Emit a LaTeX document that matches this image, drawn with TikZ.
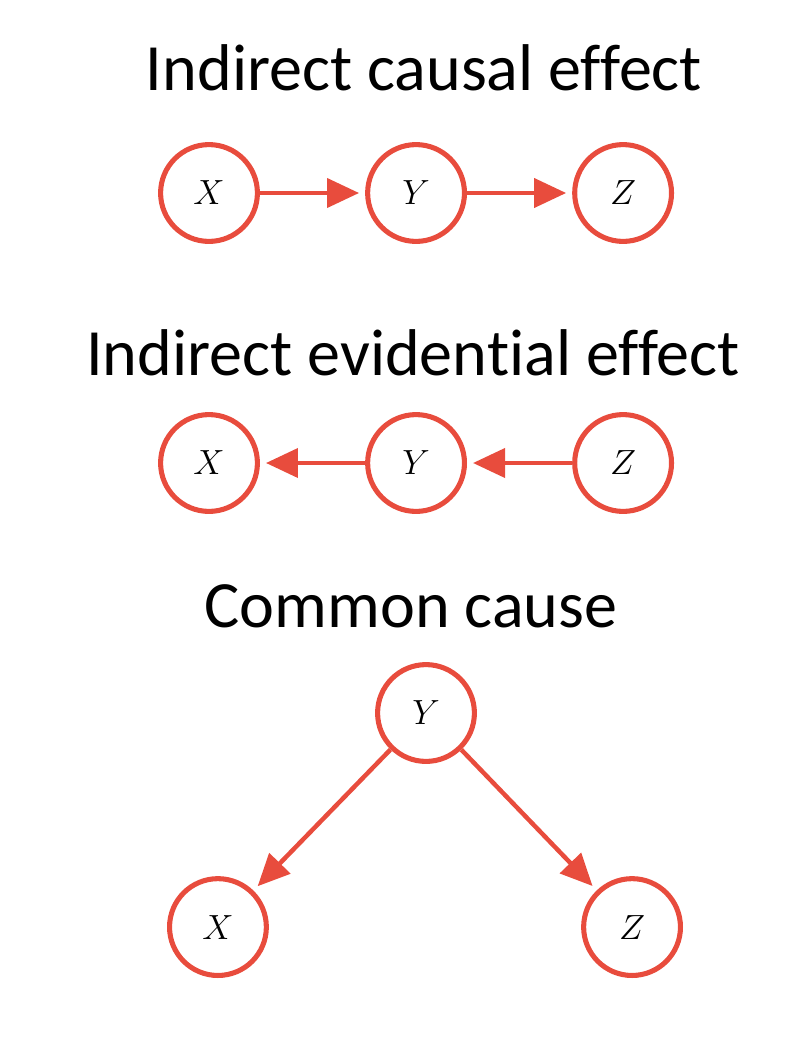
\documentclass[tikz,border=0pt]{standalone}
\usepackage{fontspec}
\setmainfont{Carlito}[RawFeature={-liga;-dlig;-calt}]
\usetikzlibrary{arrows.meta,positioning}
\definecolor{causered}{RGB}{232,76,61}

\begin{document}
\begin{tikzpicture}[x=0.025cm,y=-0.025cm,>={Triangle[length=0.8cm,width=0.72cm]},
        node distance=5.175cm,on grid,
        main node/.style={circle,draw=causered,line width=3.6pt,minimum size=2.42cm,inner sep=0pt,font=\fontsize{26}{30}\selectfont},
        title node/.style={anchor=base,font=\fontsize{47}{54}\selectfont},
        arrow line/.style={causered,line width=3.2pt,->,shorten >=0.15cm}]
    \useasboundingbox (0,0) rectangle (792,1040);
    % indirect causal effect
    \node[title node] (t1) at (424,90) {Indirect causal effect};
    \node[main node] (x1) at (209,193) {$X$};
    \node[main node] (y1) [right=of x1] {$Y$};
    \node[main node] (z1) [right=of y1] {$Z$};
    % indirect evidential effect
    \node[title node] (t2) at (413,375) {Indirect eviden\kern0pt tial effect};
    \node[main node] (x2) at (209,463) {$X$};
    \node[main node] (y2) [right=of x2] {$Y$};
    \node[main node] (z2) [right=of y2] {$Z$};
    % common cause
    \node[title node] (t3) at (411,627) {Common cause};
    \node[main node] (y3) at (426,713) {$Y$};
    \node[main node] (x3) [below left=5.35cm and 5.2cm of y3] {$X$};
    \node[main node] (z3) [below right=5.35cm and 5.15cm of y3] {$Z$};
    \path[arrow line]
    (x1) edge (y1)
    (y1) edge (z1)
    (y2) edge (x2)
    (z2) edge (y2)
    (y3) edge (x3)
    (y3) edge (z3)
    ;
\end{tikzpicture}
\end{document}
